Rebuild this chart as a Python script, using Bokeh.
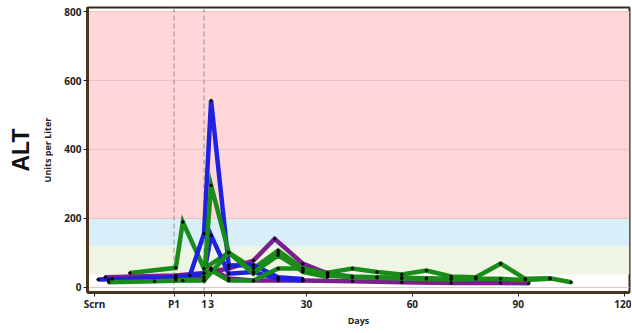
from bokeh.plotting import figure
from bokeh.models import Span, FixedTicker, Title, Range1d
from bokeh.embed import file_html
from bokeh.resources import INLINE

# ---- data ----
tick_days = [-30, -7.5, 1, 3, 30, 60, 90, 120]
tick_labels = ["Scrn", "P1", "1", "3", "30", "60", "90", "120"]
ref_days = [-7.5, 1]

band_lows = [200, 120, 38]
band_highs = [800, 200, 120]
band_colors = ["#ffd7d8", "#d8eff9", "#eef6e3"]

series = [
    # (color, days, values)
    ("#1a8c1a",
     [-20, -7, -5, 1, 8, 15, 22, 29, 36, 43, 50, 57, 64, 71, 78, 85, 92, 99, 105],
     [42, 57, 190, 55, 101, 55, 107, 55, 43, 55, 45, 38, 49, 32, 30, 69, 25, 27, 15]),
    ("#7b1f8c",
     [-27, -7, 1, 8, 15, 21, 29, 36, 43],
     [30, 35, 42, 55, 78, 141, 69, 40, 30]),
    ("#7b1f8c",
     [-25, -7, 1, 3, 8, 15, 22, 29, 43, 57, 71, 85, 93],
     [25, 28, 30, 55, 26, 20, 20, 20, 18, 15, 13, 13, 12]),
    ("#2020e0",
     [-29, -7, -3, 1, 3, 8, 15, 22, 29],
     [23, 27, 35, 156, 542, 64, 65, 30, 25]),
    ("#2020e0",
     [-26, -7, 1, 3, 8, 15, 22, 29],
     [22, 30, 40, 151, 40, 45, 25, 20]),
    ("#1a8c1a",
     [-26, -13, -5, 1, 3, 8, 15, 22, 29, 36, 43, 50, 57, 64, 71, 78, 85, 92, 99],
     [15, 18, 20, 20, 296, 101, 44, 93, 49, 35, 30, 28, 26, 25, 23, 25, 25, 22, 25]),
    ("#1a8c1a",
     [-7, 1, 3, 8, 15, 22, 29, 36, 43, 50, 57, 64, 71],
     [22, 22, 50, 20, 20, 55, 55, 40, 32, 30, 28, 27, 25]),
    ("#1a8c1a",
     [1, 8, 15, 22, 29, 36],
     [20, 101, 40, 100, 45, 30]),
]

x_lo, x_hi = -32, 121.5
y_lo, y_hi = -14.5, 811.6
y_ticks = [0, 200, 400, 600, 800]

FONT = "Open Sans"

p = figure(output_backend="svg", toolbar_location=None,
           frame_width=542, frame_height=285,
           x_range=Range1d(x_lo, x_hi), y_range=Range1d(y_lo, y_hi),
           min_border_left=80, min_border_right=2, min_border_top=7,
           min_border_bottom=10)
p.background_fill_color = "white"
p.border_fill_color = "white"
p.outline_line_color = "#3a2a18"
p.outline_line_width = 2

# bands
p.hstrip(y0=band_lows, y1=band_highs, fill_color=band_colors,
         line_color=None, level="underlay")

# grid
p.xgrid.visible = False
p.ygrid.ticker = FixedTicker(ticks=y_ticks)
p.ygrid.grid_line_color = "#e6c4c6"
p.ygrid.grid_line_width = 1

for d in ref_days:
    p.add_layout(Span(location=d, dimension="height", line_color="#9a8a8a",
                      line_dash="5 3", line_width=1, level="underlay"))

for color, days, vals in series:
    p.line(days, vals, line_color=color, line_width=4.5, line_join="miter")
for color, days, vals in series:
    p.scatter(days, vals, size=2.5, color="black")

# axes
p.xaxis.ticker = FixedTicker(ticks=tick_days)
p.xaxis.major_label_overrides = {t: l for t, l in zip(tick_days, tick_labels)}
p.yaxis.ticker = FixedTicker(ticks=y_ticks)
for ax in (p.xaxis[0], p.yaxis[0]):
    ax.axis_line_color = "#4b3521"
    ax.axis_line_width = 3
    ax.major_tick_line_color = "#222222"
    ax.major_tick_out = 4
    ax.major_tick_in = 0
    ax.minor_tick_line_color = None
    ax.major_label_text_font = FONT
    ax.major_label_text_font_style = "bold"
    ax.major_label_text_font_size = "10px"
    ax.major_label_text_color = "#222222"
    ax.axis_label_text_font = FONT
    ax.axis_label_text_font_style = "bold"
    ax.axis_label_text_font_size = "9px"
    ax.axis_label_text_color = "#222222"
p.xaxis.axis_label = "Days"
p.xaxis.major_label_standoff = 0
p.xaxis.axis_label_standoff = 0
p.yaxis.axis_label = "Units per Liter"
p.yaxis.major_label_standoff = 2
p.yaxis.axis_label_standoff = 7

p.add_layout(Title(text="ALT", align="center", text_font="Liberation Sans",
                   text_font_size="23px", text_font_style="bold",
                   text_color="#111111"), "left")

open("out.html", "w").write(file_html(p, INLINE))
